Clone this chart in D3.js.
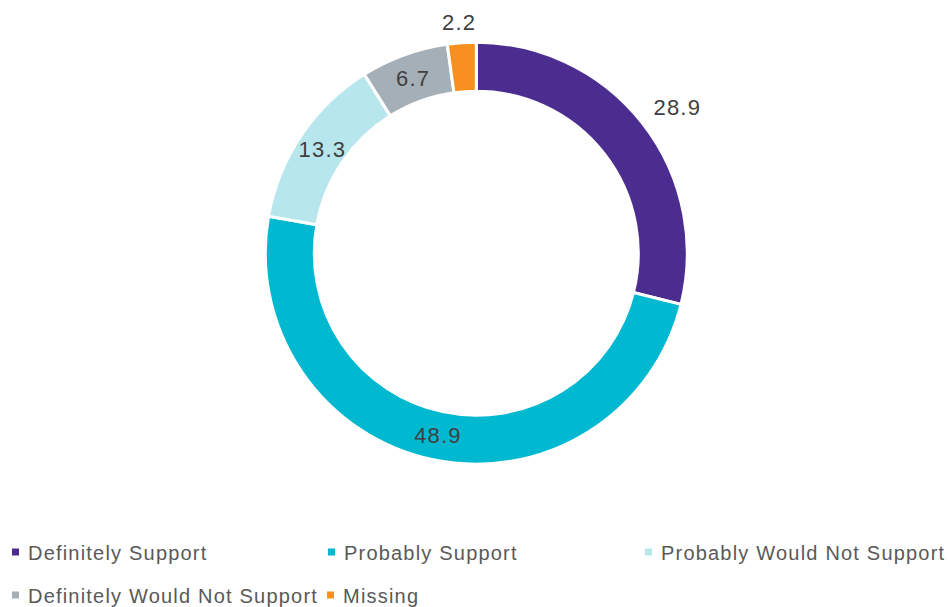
<!DOCTYPE html>
<html>
<head>
<meta charset="utf-8">
<script src="https://cdn.jsdelivr.net/npm/d3@7"></script>
<style>
  html, body { margin: 0; padding: 0; background: #fff; }
  svg { display: block; font-family: "Liberation Sans", Arial, sans-serif; }
</style>
</head>
<body>
<svg id="chart" width="948" height="607"></svg>
<script>
// Survey responses (percent)
const categories = ["Definitely Support", "Probably Support", "Probably Would Not Support", "Definitely Would Not Support", "Missing"];
const values = [28.9, 48.9, 13.3, 6.7, 2.2];
const colors = ["#4B2D8F", "#00B8D0", "#B7E7EC", "#A5AFB8", "#F7901E"];
// Which value labels sit outside the ring
const labelOutside = [true, false, false, false, true];

const width = 948, height = 607;
const cx = 476.3, cy = 253.2;
const outerR = 211, innerR = 162;

const svg = d3.select("#chart");

const pie = d3.pie().sort(null).value(d => d.value);
const arcs = pie(categories.map((c, i) => ({ name: c, value: values[i], color: colors[i], outside: labelOutside[i] })));

const arc = d3.arc().innerRadius(innerR).outerRadius(outerR);

const g = svg.append("g").attr("transform", `translate(${cx},${cy})`);

g.selectAll("path.slice")
  .data(arcs)
  .join("path")
  .attr("class", "slice")
  .attr("d", arc)
  .attr("fill", d => d.data.color)
  .attr("stroke", "#fff")
  .attr("stroke-width", 3)
  .attr("stroke-linejoin", "miter");

// Value labels
const labelFont = 22;
const capH = labelFont * 0.72;
const clamp = v => Math.max(-1, Math.min(1, v));
const labels = g.selectAll("text.val")
  .data(arcs)
  .join("text")
  .attr("class", "val")
  .attr("text-anchor", "middle")
  .attr("font-size", labelFont)
  .attr("letter-spacing", 1.2)
  .attr("fill", "#404040")
  .text(d => d3.format(".1f")(d.data.value));

labels.each(function(d) {
  const mid = (d.startAngle + d.endAngle) / 2;
  const sx = Math.sin(mid), sy = -Math.cos(mid);
  let x, y;
  if (d.data.outside) {
    // anchor just beyond the ring, label box pushed away from it along the slice direction
    const hw = this.getComputedTextLength() / 2, hh = capH / 2;
    const r = outerR + 13;
    x = r * sx + hw * clamp(sx / 0.5);
    y = r * sy + hh * clamp(sy / 0.5);
  } else {
    [x, y] = arc.centroid(d);
  }
  d3.select(this).attr("x", x + 0.6).attr("y", y + capH / 2);
});

// Legend
const legendFont = 20;
const legend = svg.append("g")
  .attr("font-size", legendFont)
  .attr("letter-spacing", 1.2)
  .attr("fill", "#595959");
const colX = [12, 328, 645];
const rowY = [560, 603];
const sw = 7;

function legendItem(i, x, baseline) {
  const item = legend.append("g");
  item.append("rect")
    .attr("x", x).attr("y", baseline - 11.5)
    .attr("width", sw).attr("height", sw)
    .attr("fill", colors[i]);
  const t = item.append("text")
    .attr("x", x + 16).attr("y", baseline)
    .text(categories[i]);
  return x + 16 + t.node().getComputedTextLength();
}

for (let i = 0; i < 3; i++) legendItem(i, colX[i], rowY[0]);
const end = legendItem(3, colX[0], rowY[1]);
legendItem(4, end + 9, rowY[1]);
</script>
</body>
</html>
